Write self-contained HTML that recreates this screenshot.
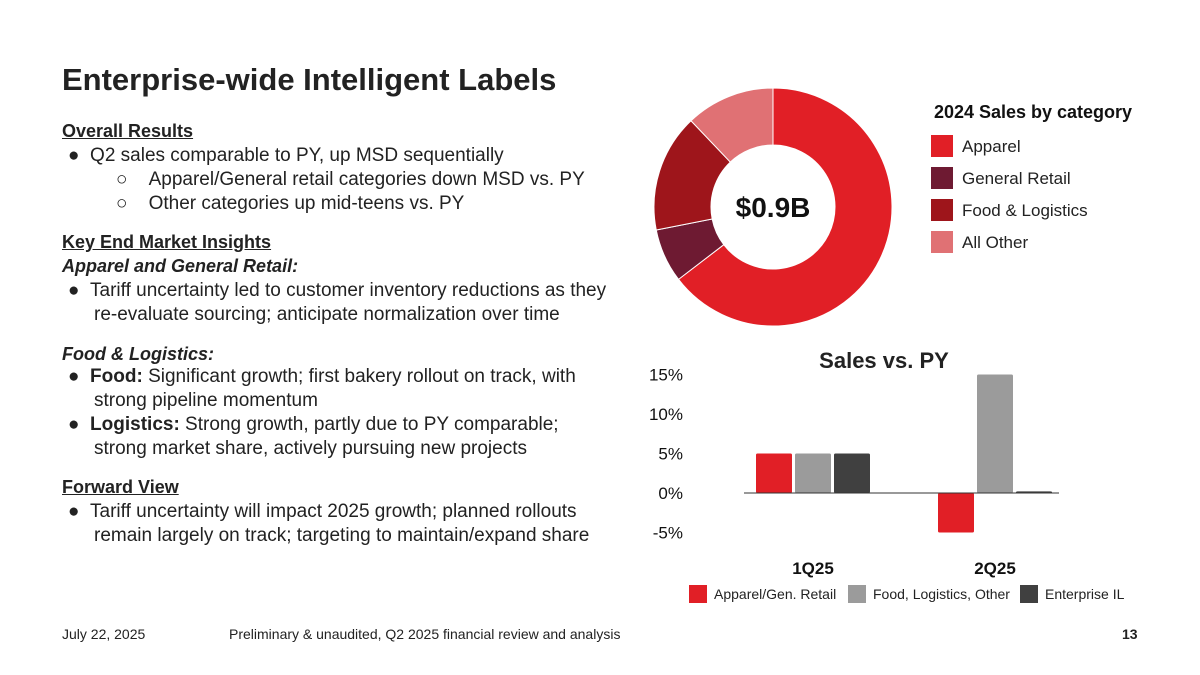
<!DOCTYPE html>
<html><head><meta charset="utf-8"><style>
body{margin:0;width:1200px;height:675px;background:#fff;position:relative;overflow:hidden;font-family:"Liberation Sans",sans-serif;color:#222}
.t{position:absolute;white-space:nowrap;font-size:19px;line-height:20px}
.h{font-weight:bold;text-decoration:underline}
.i{font-style:italic;font-weight:bold}
</style></head><body>
<div class="t" style="left:62px;top:62px;font-size:31px;line-height:36px;font-weight:bold">Enterprise-wide Intelligent Labels</div>
<div class="t h" style="left:62px;top:121px;font-size:18px">Overall Results</div>
<div class="t" style="left:68px;top:146px">●&nbsp;&nbsp;Q2 sales comparable to PY, up MSD sequentially</div>
<div class="t" style="left:116px;top:170px">○&nbsp;&nbsp;&nbsp;&nbsp;Apparel/General retail categories down MSD vs. PY</div>
<div class="t" style="left:116px;top:194px">○&nbsp;&nbsp;&nbsp;&nbsp;Other categories up mid-teens vs. PY</div>
<div class="t h" style="left:62px;top:232px;font-size:18px">Key End Market Insights</div>
<div class="t i" style="left:62px;top:256px;font-size:18px">Apparel and General Retail:</div>
<div class="t" style="left:68px;top:281px">●&nbsp;&nbsp;Tariff uncertainty led to customer inventory reductions as they</div>
<div class="t" style="left:94px;top:305px">re-evaluate sourcing; anticipate normalization over time</div>
<div class="t i" style="left:62px;top:344px;font-size:18px">Food &amp; Logistics:</div>
<div class="t" style="left:68px;top:367px">●&nbsp;&nbsp;<b>Food:</b> Significant growth; first bakery rollout on track, with</div>
<div class="t" style="left:94px;top:391px">strong pipeline momentum</div>
<div class="t" style="left:68px;top:415px">●&nbsp;&nbsp;<b>Logistics:</b> Strong growth, partly due to PY comparable;</div>
<div class="t" style="left:94px;top:439px">strong market share, actively pursuing new projects</div>
<div class="t h" style="left:62px;top:477px;font-size:18px">Forward View</div>
<div class="t" style="left:68px;top:502px">●&nbsp;&nbsp;Tariff uncertainty will impact 2025 growth; planned rollouts</div>
<div class="t" style="left:94px;top:526px">remain largely on track; targeting to maintain/expand share</div>
<div class="t" style="left:62px;top:624px;font-size:14px">July 22, 2025</div>
<div class="t" style="left:229px;top:624px;font-size:14px">Preliminary &amp; unaudited, Q2 2025 financial review and analysis</div>
<div class="t" style="left:1122px;top:624px;font-size:14px;font-weight:bold">13</div>

<svg id="c" width="1200" height="675" style="position:absolute;left:0;top:0"></svg>
<script>
const donutCats=["Apparel","General Retail","Food & Logistics","All Other"];
const donutVals=[64.6,7.3,16.0,12.1];
const donutColors=["#e11f26","#6e1a32","#9e151b","#e07174"];
const barCats=["1Q25","2Q25"];
const seriesNames=["Apparel/Gen. Retail","Food, Logistics, Other","Enterprise IL"];
const seriesColors=["#e11f26","#9b9b9b","#404040"];
const s1=[5,-5];
const s2=[5,15];
const s3=[5,0.2];
const yTicks=[15,10,5,0,-5];
const NS="http://www.w3.org/2000/svg";
const svg=document.getElementById('c');
function mk(t,a,p){const e=document.createElementNS(NS,t);for(const k in a)e.setAttribute(k,a[k]);(p||svg).appendChild(e);return e;}
// donut
const cx=773,cy=207,R=119,r=62;
const tot=donutVals.reduce((a,b)=>a+b,0);let acc=0;
function pt(a,rad){return [cx+rad*Math.sin(a),cy-rad*Math.cos(a)];}
donutVals.forEach((v,i)=>{const a0=acc/tot*2*Math.PI;acc+=v;const a1=acc/tot*2*Math.PI;const lg=(a1-a0)>Math.PI?1:0;
const p0=pt(a0,R),p1=pt(a1,R),q1=pt(a1,r),q0=pt(a0,r);
const e=mk('path',{d:`M${p0}A${R},${R} 0 ${lg} 1 ${p1}L${q1}A${r},${r} 0 ${lg} 0 ${q0}Z`,fill:donutColors[i],stroke:'#fff','stroke-width':1});


const ly=135+i*32;
const sw=mk('rect',{x:931,y:ly,width:22,height:22,fill:donutColors[i]});


const tx=mk('text',{x:962,y:ly+17,'font-size':17,fill:'#222','font-family':'Liberation Sans'});tx.textContent=donutCats[i];


});
let ct=mk('text',{x:cx,y:cy+10,'text-anchor':'middle','font-size':28,'font-weight':'bold',fill:'#111'});ct.textContent='$0.9B';


let dt=mk('text',{x:1033,y:118,'text-anchor':'middle','font-size':18,'font-weight':'bold',fill:'#111'});dt.textContent='2024 Sales by category';


// bar chart
const y0=493,ppu=7.9;
function Y(v){return y0-v*ppu;}
let bt=mk('text',{x:884,y:368,'text-anchor':'middle','font-size':22,'font-weight':'bold',fill:'#222'});bt.textContent='Sales vs. PY';


yTicks.forEach(t=>{const e=mk('text',{x:683,y:Y(t)+6,'text-anchor':'end','font-size':17,fill:'#111'});e.textContent=t+'%';

});
const groupX=[813,995];const bw=36,gap=39;
[s1,s2,s3].forEach((s,si)=>{s.forEach((v,ci)=>{const x=groupX[ci]+(si-1)*gap-bw/2;const top=Math.min(Y(v),Y(0));
const e=mk('rect',{x:x,y:top,width:bw,height:Math.max(1.5,Math.abs(Y(v)-Y(0))),fill:seriesColors[si],rx:1.5});

});});
let ax=mk('line',{x1:744,x2:1059,y1:y0,y2:y0,stroke:'#333','stroke-width':1});


barCats.forEach((c,i)=>{const e=mk('text',{x:groupX[i],y:574,'text-anchor':'middle','font-size':17,'font-weight':'bold',fill:'#111'});e.textContent=c;

});
const legX=[689,848,1020];
seriesNames.forEach((n,i)=>{const r1=mk('rect',{x:legX[i],y:585,width:18,height:18,fill:seriesColors[i]});


const t=mk('text',{x:legX[i]+25,y:599,'font-size':14,fill:'#222'});t.textContent=n;

});
</script>
</body></html>
